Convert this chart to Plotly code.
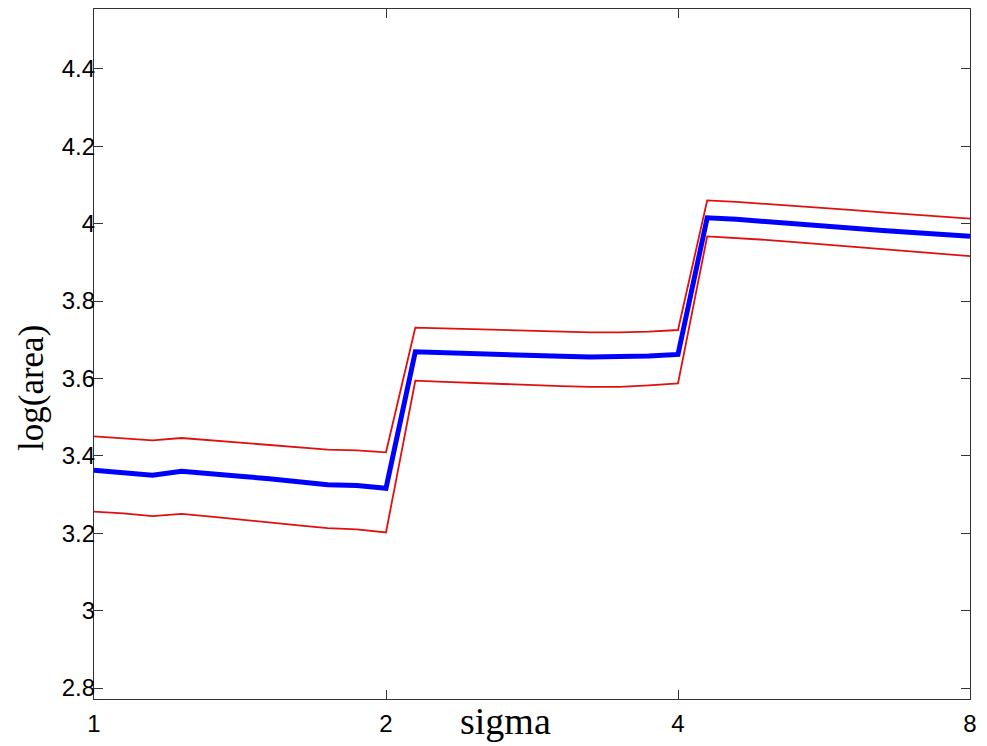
import plotly.graph_objects as go

sigma = [1.0, 1.072, 1.149, 1.231, 1.320, 1.414, 1.516, 1.625, 1.741, 1.866,
         2.0, 2.144, 2.297, 2.462, 2.639, 2.828, 3.031, 3.249, 3.482, 3.732,
         4.0, 4.287, 4.595, 4.925, 5.278, 5.657, 6.063, 6.498, 6.964, 7.464, 8.0]

mean_log_area = [3.363, 3.358, 3.350, 3.360, 3.355, 3.347, 3.341, 3.333, 3.325, 3.323,
                 3.316, 3.669, 3.666, 3.664, 3.662, 3.659, 3.657, 3.655, 3.655, 3.658,
                 3.662, 4.015, 4.011, 4.006, 4.000, 3.994, 3.988, 3.982, 3.976, 3.971, 3.967]

upper_log_area = [3.450, 3.445, 3.440, 3.446, 3.440, 3.434, 3.428, 3.422, 3.416, 3.414,
                  3.409, 3.731, 3.729, 3.727, 3.725, 3.723, 3.721, 3.719, 3.719, 3.721,
                  3.725, 4.060, 4.056, 4.051, 4.046, 4.040, 4.035, 4.029, 4.024, 4.018, 4.013]

lower_log_area = [3.256, 3.251, 3.244, 3.250, 3.243, 3.235, 3.227, 3.220, 3.213, 3.210,
                  3.202, 3.594, 3.591, 3.588, 3.585, 3.583, 3.580, 3.578, 3.578, 3.582,
                  3.587, 3.967, 3.963, 3.958, 3.952, 3.946, 3.941, 3.935, 3.929, 3.922, 3.916]

x_ticks = [1, 2, 4, 8]
x_tick_text = ["1", "2", "4", "8"]
y_ticks = [2.8, 3.0, 3.2, 3.4, 3.6, 3.8, 4.0, 4.2, 4.4]
y_tick_text = ["2.8", "3", "3.2", "3.4", "3.6", "3.8", "4", "4.2", "4.4"]

fig = go.Figure()
fig.add_trace(go.Scatter(x=sigma, y=upper_log_area, mode="lines",
                         line=dict(color="#e01010", width=1.8), showlegend=False))
fig.add_trace(go.Scatter(x=sigma, y=lower_log_area, mode="lines",
                         line=dict(color="#e01010", width=1.8), showlegend=False))
fig.add_trace(go.Scatter(x=sigma, y=mean_log_area, mode="lines",
                         line=dict(color="#0000ff", width=5), showlegend=False))

axis_common = dict(showgrid=False, zeroline=False, showline=True, mirror="ticks",
                   linecolor="#333333", linewidth=1.2, ticks="inside", ticklen=9,
                   tickcolor="#333333", tickwidth=1,
                   tickfont=dict(family="Liberation Sans, Arial, sans-serif", size=24, color="black"))

fig.update_xaxes(type="log", range=[0, 0.90309], tickvals=x_ticks, ticktext=x_tick_text,
                 ticklabelstandoff=3, **axis_common)
fig.update_yaxes(range=[2.7716, 4.5545], tickvals=y_ticks, ticktext=y_tick_text,
                 ticklabelstandoff=-7, **axis_common)

# page has an 8px body margin; figure sized/offset so the plot box lands where the reference has it
W, H = 979, 738
L, R, T, B = 86, 17, 1, 47
pw, ph = W - L - R, H - T - B

fig.add_annotation(text="log(area)", xref="paper", yref="paper",
                   x=(31 - 8 - L) / pw, y=(H - B - (388 - 8)) / ph, textangle=-90,
                   showarrow=False, xanchor="center", yanchor="middle",
                   font=dict(family="Liberation Serif, Times New Roman, serif", size=35, color="black"))
fig.add_annotation(text="sigma", xref="paper", yref="paper",
                   x=(505 - 8 - L) / pw, y=(H - B - (721 - 8)) / ph,
                   showarrow=False, xanchor="center", yanchor="middle",
                   font=dict(family="Liberation Serif, Times New Roman, serif", size=38, color="black"))

fig.update_layout(width=W, height=H, margin=dict(l=L, r=R, t=T, b=B, pad=0),
                  plot_bgcolor="white", paper_bgcolor="white")

fig.write_html("out.html")
